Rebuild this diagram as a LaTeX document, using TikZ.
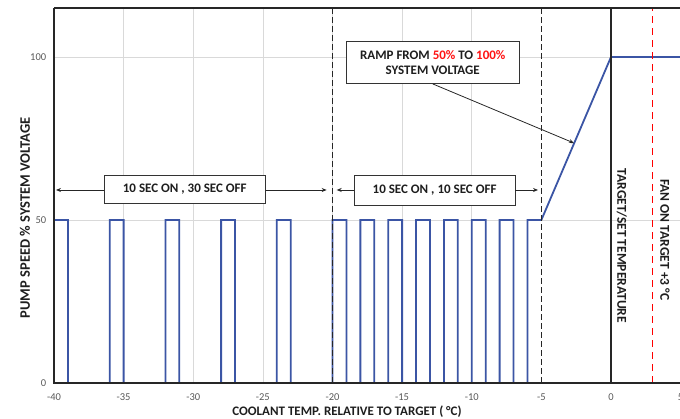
\documentclass[tikz,border=0pt]{standalone}
\usepackage{fontspec}
\setmainfont{Carlito}
\usetikzlibrary{arrows.meta}
\definecolor{wave}{RGB}{59,85,165}
\definecolor{gridc}{RGB}{217,217,217}
\definecolor{tickc}{RGB}{89,89,89}
\definecolor{txt}{RGB}{30,30,30}
\definecolor{hot}{RGB}{255,20,20}
\tikzset{
  gridline/.style={draw=gridc, line width=0.6pt},
  axisline/.style={draw=black!85, line width=1.3pt},
  vdash/.style={draw=black!85, line width=1.3pt, dash pattern=on 6pt off 3pt},
  reddash/.style={draw=red, line width=1.3pt, dash pattern=on 7pt off 5pt},
  wavestyle/.style={draw=wave, line width=1.8pt, line join=miter},
  ticklab/.style={font=\fontsize{10.5}{12}\selectfont, text=tickc, inner sep=0pt},
  boxlab/.style={draw=black!80, line width=0.8pt, fill=white, font=\fontsize{13}{15.5}\selectfont\bfseries, text=txt, align=center, inner sep=0pt},
  axtitle/.style={font=\fontsize{13}{15}\selectfont\bfseries, text=txt, inner sep=0pt},
  sidelab/.style={font=\fontsize{13.5}{16}\selectfont\bfseries, text=txt, inner sep=0pt, rotate=-90},
  arr/.style={draw=black!85, line width=0.8pt, -{Stealth[length=5pt,width=4pt]}},
}
\begin{document}
\begin{tikzpicture}[x=13.925pt, y=3.26pt]
\useasboundingbox (-43.88,-11.04) rectangle (4.955,117.48);
% grid
\foreach \v in {-35,-30,...,-10} \draw[gridline] (\v,0) -- (\v,115);
\draw[gridline] (-40,50) -- (5,50);
\draw[gridline] (-40,100) -- (5,100);
% waveform
\draw[wavestyle] (-40,0) -- (-40,50) -- (-39,50) -- (-39,0) -- (-36,0) -- (-36,50) -- (-35,50) -- (-35,0)
  -- (-32,0) -- (-32,50) -- (-31,50) -- (-31,0) -- (-28,0) -- (-28,50) -- (-27,50) -- (-27,0)
  -- (-24,0) -- (-24,50) -- (-23,50) -- (-23,0) -- (-20,0) -- (-20,50) -- (-19,50) -- (-19,0)
  -- (-18,0) -- (-18,50) -- (-17,50) -- (-17,0) -- (-16,0) -- (-16,50) -- (-15,50) -- (-15,0)
  -- (-14,0) -- (-14,50) -- (-13,50) -- (-13,0) -- (-12,0) -- (-12,50) -- (-11,50) -- (-11,0)
  -- (-10,0) -- (-10,50) -- (-9,50) -- (-9,0) -- (-8,0) -- (-8,50) -- (-7,50) -- (-7,0)
  -- (-6,0) -- (-6,50) -- (-5,50) -- (0,100) -- (5,100);
% vertical markers
\draw[vdash] (-20,0) -- (-20,115);
\draw[vdash] (-5,0) -- (-5,115);
\draw[axisline] (0,0) -- (0,115);
\draw[reddash] (3,0) -- (3,115);
% axes and frame
\draw[axisline] (-40,115) -- (-40,0) -- (5,0);
\draw[axisline] (-40,115) -- (5,115);
% tick labels
\foreach \v in {-40,-35,...,0} \node[ticklab] (xt\v) at (\v,-4.3) {\v};
\node[ticklab] (xt5) at (5,-4.3) {5};
\node[ticklab, anchor=east] (y0) at (-40.55,0) {0};
\node[ticklab, anchor=east] (y50) at (-40.55,50) {50};
\node[ticklab, anchor=east] (y100) at (-40.55,100) {100};
% axis titles
\node[axtitle] (xtitle) at (-18.96,-8.9) {COOLANT TEMP. RELATIVE TO TARGET ( °C)};
\node[axtitle, font=\fontsize{14.5}{17}\selectfont\bfseries, rotate=90] (ytitle) at (-42.08,50.6) {PUMP SPEED \% SYSTEM VOLTAGE};
% side labels
\node[sidelab] (target) at (0.77,42.0) {TARGET/SET TEMPERATURE};
\node[sidelab] (fan) at (3.88,43.9) {FAN ON TARGET +3 °C};
% annotation boxes
\coordinate (a1l) at (-39.86,59.2);
\coordinate (a1r) at (-20.42,59.2);
\coordinate (a2l) at (-19.70,59.2);
\coordinate (a2r) at (-5.24,59.2);
\node[boxlab, minimum width=161pt, minimum height=28pt] (b1) at (-30.61,59.4) {10 SEC ON , 30 SEC OFF};
\node[boxlab, minimum width=161pt, minimum height=30pt] (b2) at (-12.67,59.2) {10 SEC ON , 10 SEC OFF};
\draw[arr] (b1.west |- a1l) -- (a1l);
\draw[arr] (b1.east |- a1r) -- (a1r);
\draw[arr] (b2.west |- a2l) -- (a2l);
\draw[arr] (b2.east |- a2r) -- (a2r);
\node[boxlab, minimum width=173pt, minimum height=42pt] (b3) at (-12.80,98.3) {RAMP FROM \textcolor{hot}{50\%} TO \textcolor{hot}{100\%}\\SYSTEM VOLTAGE};
\coordinate (rampend) at (-2.66,73.6);
\draw[arr] (b3.south) -- (rampend);
\end{tikzpicture}
\end{document}
